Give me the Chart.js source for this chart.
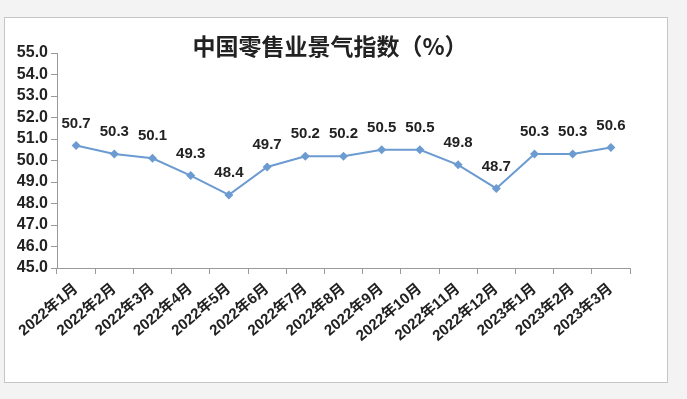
<!DOCTYPE html>
<html>
<head>
<meta charset="utf-8">
<script src="https://cdn.jsdelivr.net/npm/chart.js@4"></script>
<style>
  html, body { margin: 0; padding: 0; background: #f3f3f3; }
  #wrap { width: 687px; height: 399px; }
</style>
</head>
<body>
<div id="wrap"><canvas id="chart" width="687" height="399"></canvas></div>
<script>
const months = ['2022年1月', '2022年2月', '2022年3月', '2022年4月', '2022年5月', '2022年6月', '2022年7月',
  '2022年8月', '2022年9月', '2022年10月', '2022年11月', '2022年12月', '2023年1月', '2023年2月', '2023年3月'];
const retailIndex = [50.7, 50.3, 50.1, 49.3, 48.4, 49.7, 50.2, 50.2, 50.5, 50.5, 49.8, 48.7, 50.3, 50.3, 50.6];
const yMin = 45, yMax = 55, yStep = 1;
const titleText = '中国零售业景气指数（%）';

const fontFamily = '"Liberation Sans", Arial, "Noto Sans CJK SC", sans-serif';

// gray page + white framed box, and the title
const frame = {
  id: 'frame',
  beforeDraw(chart) {
    const ctx = chart.ctx;
    ctx.save();
    ctx.fillStyle = '#f3f3f3';
    ctx.fillRect(0, 0, chart.width, chart.height);
    ctx.fillStyle = '#ffffff';
    ctx.fillRect(4, 17, 663, 365);
    ctx.strokeStyle = '#c6c6c6';
    ctx.lineWidth = 1;
    ctx.strokeRect(4.5, 17.5, 663, 365);
    ctx.fillStyle = '#222';
    ctx.font = 'bold 23px "Noto Sans CJK SC", sans-serif';
    ctx.textAlign = 'center';
    ctx.textBaseline = 'middle';
    ctx.fillText(titleText, 330, 46);
    ctx.restore();
  }
};

// value labels above each point
const valueLabels = {
  id: 'valueLabels',
  afterDatasetsDraw(chart) {
    const ctx = chart.ctx;
    const meta = chart.getDatasetMeta(0);
    ctx.save();
    ctx.fillStyle = '#222';
    ctx.font = 'bold 15px ' + fontFamily;
    ctx.textAlign = 'center';
    ctx.textBaseline = 'middle';
    meta.data.forEach((pt, i) => {
      ctx.fillText(retailIndex[i].toFixed(1), pt.x, pt.y - 22);
    });
    ctx.restore();
  }
};

new Chart(document.getElementById('chart'), {
  type: 'line',
  data: {
    labels: months,
    datasets: [{
      data: retailIndex,
      borderColor: '#6b9bd1',
      backgroundColor: '#6b9bd1',
      borderWidth: 2,
      pointStyle: 'rectRot',
      pointRadius: 4.5,
      pointBorderWidth: 0,
      tension: 0,
      fill: false
    }]
  },
  options: {
    responsive: false,
    animation: false,
    layout: { padding: { left: 4, top: 53, right: 57, bottom: 31 } },
    plugins: {
      legend: { display: false },
      tooltip: { enabled: false },
      title: { display: false }
    },
    scales: {
      x: {
        offset: true,
        afterFit: s => { s.height = 100; },
        grid: {
          display: true,
          drawOnChartArea: false,
          offset: true,
          color: '#9a9a9a',
          tickLength: 6
        },
        border: { color: '#9a9a9a', width: 1 },
        ticks: {
          color: '#222',
          minRotation: 40,
          maxRotation: 40,
          autoSkip: false,
          padding: 6,
          font: { family: fontFamily, size: 15, weight: 'bold' }
        }
      },
      y: {
        min: yMin,
        max: yMax,
        afterFit: s => { s.width = 53; },
        grid: {
          display: true,
          drawOnChartArea: false,
          color: '#9a9a9a',
          tickLength: 6
        },
        border: { color: '#9a9a9a', width: 1 },
        ticks: {
          stepSize: yStep,
          autoSkip: false,
          color: '#222',
          padding: 3,
          callback: v => Number(v).toFixed(1),
          font: { family: fontFamily, size: 16, weight: 'bold', lineHeight: 1 }
        }
      }
    }
  },
  plugins: [frame, valueLabels]
});
</script>
</body>
</html>
